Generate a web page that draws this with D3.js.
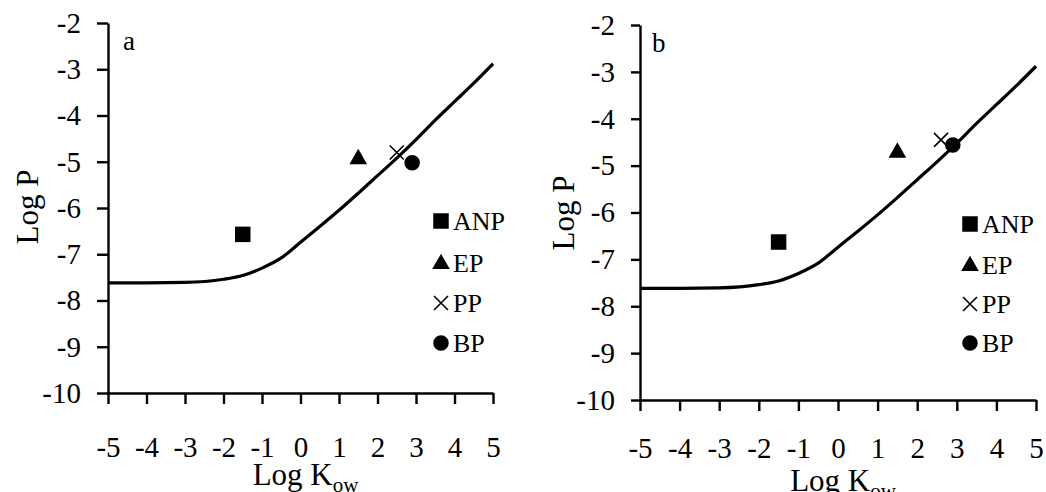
<!DOCTYPE html>
<html>
<head>
<meta charset="utf-8">
<script src="https://cdn.jsdelivr.net/npm/d3@7"></script>
<style>
  body { margin: 0; background: #fff; }
  svg text { font-family: "Liberation Serif", "Times New Roman", serif; fill: #000; }
</style>
</head>
<body>
<svg id="chart" width="1046" height="492"></svg>
<script>
// model curve
var curveKow = [-5, -4, -3, -2, -1.5, -1, -0.5, 0, 0.5, 1, 1.5, 2, 2.5, 3, 3.5, 4, 4.5, 5];
var curveLogP = [-7.62, -7.62, -7.61, -7.54, -7.46, -7.3, -7.08, -6.74, -6.4, -6.05, -5.68, -5.3, -4.92, -4.52, -4.1, -3.7, -3.3, -2.88];

// measured compounds
var compounds = ["ANP", "EP", "PP", "BP"];
var kowA = [-1.5, 1.5, 2.5, 2.9];
var logPA = [-6.57, -4.92, -4.8, -5.02];
var kowB = [-1.5, 1.5, 2.6, 2.9];
var logPB = [-6.63, -4.7, -4.45, -4.56];

var xTicks = [-5, -4, -3, -2, -1, 0, 1, 2, 3, 4, 5];
var yTicks = [-2, -3, -4, -5, -6, -7, -8, -9, -10];

var serif = "Liberation Serif, Times New Roman, serif";
var svg = d3.select("#chart");

function drawPanel(opt) {
  var x = d3.scaleLinear().domain([-5, 5]).range([opt.left, opt.right]);
  var y = d3.scaleLinear().domain([-10, -2]).range([opt.bottom, opt.top]);
  var g = svg.append("g");

  //x axis
  var xa = g.append("g")
    .attr("transform", "translate(0," + opt.bottom + ")")
    .call(d3.axisBottom(x).tickValues(xTicks).tickSizeInner(11).tickSizeOuter(0)
      .tickPadding(opt.xPad).tickFormat(d3.format("d")));
  //y axis
  var ya = g.append("g")
    .attr("transform", "translate(" + opt.left + ",0)")
    .call(d3.axisLeft(y).tickValues(yTicks).tickSizeInner(opt.yTick).tickSizeOuter(0)
      .tickPadding(16).tickFormat(d3.format("d")));

  [xa, ya].forEach(function(a) {
    a.attr("font-family", serif).attr("font-size", 29);
    a.select(".domain").attr("stroke", "#000").attr("stroke-width", 2.4);
    a.selectAll(".tick line").attr("stroke", "#000").attr("stroke-width", 2.4);
    a.selectAll(".tick text").attr("fill", "#000");
  });
  // plain hyphen as in the print
  g.selectAll(".tick text").text(function(d) { return d < 0 ? "-" + Math.abs(d) : d; });

  //panel letter
  g.append("text").attr("x", opt.left + opt.letterDx).attr("y", opt.top + 27)
    .style("font-size", "27px").text(opt.letter);

  //axis titles
  g.append("text")
    .attr("transform", "translate(" + opt.yTitleX + "," + opt.yTitleY + ") rotate(-90)")
    .attr("text-anchor", "middle").attr("dy", "0.35em")
    .style("font-size", "31px").text("Log P");

  var xt = g.append("text").attr("x", (opt.left + opt.right) / 2 + 5).attr("y", opt.xTitleY)
    .attr("text-anchor", "middle").style("font-size", "31px");
  xt.append("tspan").text("Log K");
  xt.append("tspan").attr("dy", 7).style("font-size", "21px").text("ow");

  //curve
  var line = d3.line()
    .x(function(d) { return x(d[0]); })
    .y(function(d) { return y(d[1]); })
    .curve(d3.curveMonotoneX);
  g.append("path")
    .datum(d3.zip(curveKow, curveLogP))
    .attr("d", line)
    .attr("fill", "none")
    .attr("stroke", "#000")
    .attr("stroke-width", 3.2);

  //points
  var pts = compounds.map(function(c, i) {
    return { name: c, kow: opt.kow[i], logP: opt.logP[i] };
  });
  g.selectAll(".pt").data(pts).enter().append("g")
    .attr("class", "pt")
    .attr("transform", function(d) { return "translate(" + x(d.kow) + "," + y(d.logP) + ")"; })
    .each(function(d) { marker(d3.select(this), d.name); });

  //legend
  var leg = g.selectAll(".leg").data(compounds).enter().append("g")
    .attr("class", "leg")
    .attr("transform", function(d, i) { return "translate(" + opt.legX + "," + opt.legY[i] + ")"; });
  leg.each(function(d) { marker(d3.select(this), d); });
  leg.append("text").attr("x", 12).attr("dy", "0.35em")
    .style("font-size", "26px").text(function(d) { return d; });
}

function marker(sel, name) {
  if (name === "ANP") {
    sel.append("path").attr("d", d3.symbol(d3.symbolSquare, 240)()).attr("fill", "#000");
  } else if (name === "EP") {
    sel.append("path").attr("d", d3.symbol(d3.symbolTriangle, 135)()).attr("fill", "#000")
      .attr("transform", "translate(0,1)");
  } else if (name === "PP") {
    sel.append("path").attr("d", "M-7,-7L7,7M-7,7L7,-7")
      .attr("stroke", "#000").attr("stroke-width", 1.6).attr("fill", "none");
  } else {
    sel.append("path").attr("d", d3.symbol(d3.symbolCircle, 190)()).attr("fill", "#000");
  }
}

drawPanel({
  letter: "a", left: 108, right: 493, top: 23, bottom: 393,
  kow: kowA, logP: logPA, xPad: 32, yTick: 11, letterDx: 15,
  yTitleX: 27, yTitleY: 207, xTitleY: 485,
  legX: 441, legY: [221, 263, 303, 343]
});
drawPanel({
  letter: "b", left: 640, right: 1036, top: 25, bottom: 400,
  kow: kowB, logP: logPB, xPad: 26, yTick: 9, letterDx: 12,
  yTitleX: 563, yTitleY: 213, xTitleY: 491,
  legX: 970, legY: [224, 265, 304, 343]
});
</script>
</body>
</html>
